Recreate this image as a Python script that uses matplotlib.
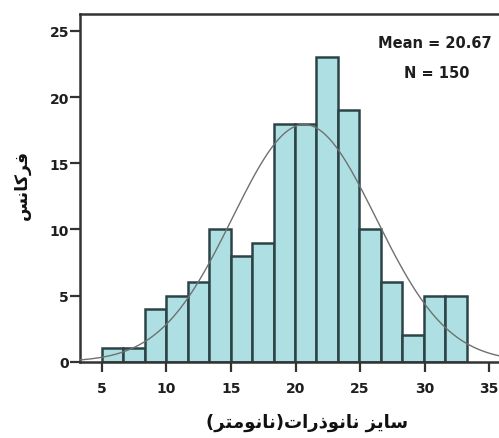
import numpy as np
import matplotlib
matplotlib.use("Agg")
import matplotlib.pyplot as plt

# ---- data ----
counts = [1, 1, 4, 5, 6, 10, 8, 9, 18, 18, 23, 19, 10, 6, 2, 5, 5]
bin_start = 5.0
bin_width = 1.6625
mean_val = 20.67
n_val = 150
std_val = 5.55
x_ticks = [5, 10, 15, 20, 25, 30, 35]
y_ticks = [0, 5, 10, 15, 20, 25]

# Persian labels in visual (left-to-right) order with presentation forms,
# since matplotlib performs no Arabic shaping or bidi reordering.
ylabel_txt = "\uFEB2\uFEE7\uFE8E\uFB90\uFEAE\uFED3"            # فرکانس
w_size = "\uFEB0\uFBFE\uFE8E\uFEB3"                             # سایز
w_nano = "\uFE95\uFE8D\uFEAD\uFEAB\uFEEE\uFEE7\uFE8E\uFEE7"     # نانوذرات
w_nm = "\uFEAE\uFE98\uFEE3\uFEEE\uFEE7\uFE8E\uFEE7"             # نانومتر
xlabel_txt = "(" + w_nm + ")" + w_nano + " " + w_size           # سایز نانوذرات(نانومتر)

W, H = 499, 439
fig = plt.figure(figsize=(W / 100, H / 100), dpi=100)
ax = fig.add_axes([80 / W, (H - 362.7) / H, (534 - 80) / W, (362.7 - 14.7) / H])

edges = bin_start + bin_width * np.arange(len(counts))
ax.bar(edges, counts, width=bin_width, align="edge", color="#aee0e3",
       edgecolor="#2c4446", linewidth=1.8, zorder=2)

xs = np.linspace(3.0, 40, 400)
ys = n_val * bin_width / (std_val * np.sqrt(2 * np.pi)) * np.exp(-0.5 * ((xs - mean_val) / std_val) ** 2)
ax.plot(xs, ys, color="#707070", linewidth=1.0, zorder=3)

ax.set_xlim(3.32, 38.46)
ax.set_ylim(0, 26.3)
ax.set_xticks(x_ticks)
ax.set_yticks(y_ticks)
ax.set_xticklabels([str(v) for v in x_ticks], fontsize=10, fontweight="bold",
                   family="DejaVu Sans", color="#1e1e1e")
ax.set_yticklabels([str(v) for v in y_ticks], fontsize=10, fontweight="bold",
                   family="DejaVu Sans", color="#1e1e1e")
ax.tick_params(axis="x", direction="out", length=7, width=1.6, pad=7, color="#333333")
ax.tick_params(axis="y", direction="out", length=7, width=1.6, pad=1, color="#333333")
for s in ax.spines.values():
    s.set_linewidth(1.8)
    s.set_color("#333333")

fig.text(435 / W, (H - 43) / H, f"Mean = {mean_val:.2f}", ha="center", va="center",
         fontsize=10.5, fontweight="bold", color="#1e1e1e")
fig.text(437 / W, (H - 74) / H, f"N = {n_val}", ha="center", va="center",
         fontsize=10.5, fontweight="bold", color="#1e1e1e")

fig.text(307 / W, (H - 423) / H, xlabel_txt, ha="center", va="center",
         fontsize=13, fontweight="bold", family="DejaVu Sans", color="#111111")
fig.text(22 / W, (H - 185) / H, ylabel_txt, ha="center", va="center", rotation=90,
         fontsize=12.5, fontweight="bold", family="DejaVu Sans", color="#111111")

fig.savefig("out.png", dpi=100)
